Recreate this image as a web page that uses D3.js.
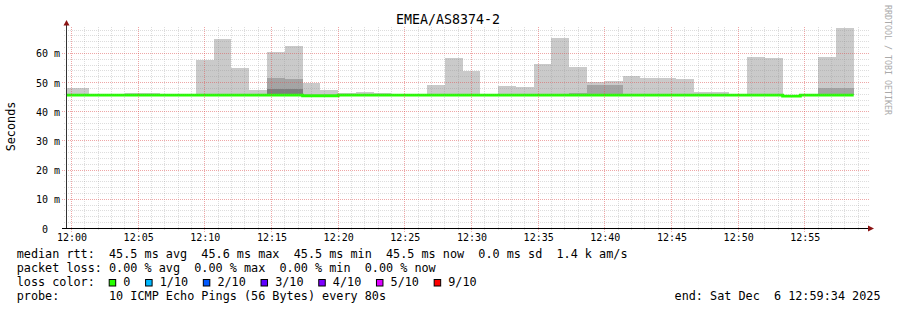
<!DOCTYPE html>
<html><head><meta charset="utf-8">
<script src="https://cdn.jsdelivr.net/npm/d3@7"></script>
<style>
body{margin:0;background:#fff;}
svg text{font-family:"DejaVu Sans Mono",monospace;white-space:pre;}
</style></head><body>
<svg id="c" width="897" height="310"></svg>
<script>
// ---------- data ----------
const title = "EMEA/AS8374-2";
const stepSeconds = 80;
// steps start at 11:58:40 (first one clipped by the plot edge)
const median = [45.7,45.7,45.7,45.7,45.7,45.7,45.7,45.7,45.7,45.7,45.7,45.7,45.7,45.7,45.5,45.5,45.7,45.7,45.7,45.7,45.7,45.7,45.7,45.7,45.7,45.7,45.7,45.7,45.7,45.7,45.7,45.7,45.7,45.7,45.7,45.7,45.7,45.7,45.7,45.7,45.7,45.35,45.7,45.7,45.7];
const smokeLight = [48.3,48.3,null,null,46.5,46.5,null,null,57.9,65.1,55.0,47.6,60.5,62.6,49.9,47.5,46.5,46.8,46.5,null,null,49.2,58.5,54.1,null,48.9,48.5,56.4,65.4,55.4,50.2,50.6,52.3,51.7,51.7,51.3,46.8,46.8,null,58.9,58.5,null,null,58.9,68.7];
const smokeMid = [null,null,null,null,null,null,null,null,null,null,null,null,51.6,51.3,null,null,null,null,null,null,null,null,null,null,null,null,null,null,null,46.5,49.3,49.3,null,null,null,null,null,null,null,null,null,null,null,48.3,48.3];
const smokeDark = [null,null,null,null,null,null,null,null,null,null,null,null,47.8,47.8,null,null,null,null,null,null,null,null,null,null,null,null,null,null,null,null,null,null,null,null,null,null,null,null,null,null,null,null,null,null,null];
const xTickLabels = ["12:00","12:05","12:10","12:15","12:20","12:25","12:30","12:35","12:40","12:45","12:50","12:55"];
const yTickValues = [0,10,20,30,40,50,60];
const yTickLabels = ["0  ","10 m","20 m","30 m","40 m","50 m","60 m"];
const legendRtt = "median rtt:  45.5 ms avg  45.6 ms max  45.5 ms min  45.5 ms now  0.0 ms sd  1.4 k am/s";
const legendLoss = "packet loss: 0.00 % avg  0.00 % max  0.00 % min  0.00 % now";
const lossLabels = ["0","1/10","2/10","3/10","4/10","5/10","9/10"];
const lossColors = ["#26ff00","#00b8ff","#0059ff","#5e00ff","#7e00ff","#dd00ff","#ff0000"];
const probeText = "probe:       10 ICMP Echo Pings (56 Bytes) every 80s";
const endText = "end: Sat Dec  6 12:59:34 2025";
const yLabel = "Seconds";
const watermark = "RRDTOOL / TOBI OETIKER";
const smokeColors = ["#cacaca","#a4a4a4","#7e7e7e"];

// ---------- scales ----------
const svg = d3.select("#c");
const T = (h,m,s)=>new Date(2025,11,6,h,m,s);
const x = d3.scaleTime().domain([T(11,59,34), T(12,59,34)]).range([65.72, 865.72]);
const y = d3.scaleLinear().domain([0, 68.56]).range([228.5, 28.5]);
const firstStep = T(11,58,40);
const steps = median.map((m,i)=>({
  t: new Date(+firstStep + i*stepSeconds*1000),
  t2: new Date(+firstStep + (i+1)*stepSeconds*1000),
  m, light: smokeLight[i], mid: smokeMid[i], dark: smokeDark[i]
}));

svg.append("rect").attr("width",897).attr("height",310).attr("fill","#fff");
svg.append("defs").append("clipPath").attr("id","plot")
  .append("rect").attr("x",66.5).attr("y",0).attr("width",866-66.5).attr("height",228);

const plot = svg.append("g").attr("clip-path","url(#plot)");

// smoke layers
[["light",0],["mid",1],["dark",2]].forEach(([k,ci])=>{
  plot.append("g").attr("shape-rendering","crispEdges").selectAll("rect")
    .data(steps.filter(d=>d[k]!=null)).join("rect")
    .attr("x",d=>Math.round(x(d.t)))
    .attr("width",d=>Math.round(x(d.t2))-Math.round(x(d.t)))
    .attr("y",d=>y(d[k]))
    .attr("height",d=>y(d.m)-y(d[k]))
    .attr("fill",smokeColors[ci]);
});

// grid
const grid = svg.append("g").attr("shape-rendering","crispEdges");
const px = v=>Math.floor(v)+0.5;
const minuteTicks = d3.range(0,60).map(mn=>T(12,mn,0));
const minorX = minuteTicks.filter(t=>t.getMinutes()%5!==0);
const majorX = minuteTicks.filter(t=>t.getMinutes()%5===0);
const minorY = d3.range(2,69,2).filter(v=>v%10!==0);
const majorY = yTickValues.filter(v=>v>0);
grid.selectAll(".mx").data(minorX).join("line")
  .attr("x1",d=>px(x(d))).attr("x2",d=>px(x(d))).attr("y1",27).attr("y2",231)
  .attr("stroke","#8f8f8f").attr("stroke-opacity",0.3).attr("stroke-dasharray","1,1");
grid.selectAll(".my").data(minorY).join("line")
  .attr("y1",d=>px(y(d))).attr("y2",d=>px(y(d))).attr("x1",64).attr("x2",869)
  .attr("stroke","#8f8f8f").attr("stroke-opacity",0.3).attr("stroke-dasharray","1,1");
grid.selectAll(".Mx").data(majorX).join("line")
  .attr("x1",d=>px(x(d))).attr("x2",d=>px(x(d))).attr("y1",27).attr("y2",232)
  .attr("stroke","#de5050").attr("stroke-opacity",0.5).attr("stroke-dasharray","1,1");
grid.selectAll(".My").data(majorY).join("line")
  .attr("y1",d=>px(y(d))).attr("y2",d=>px(y(d))).attr("x1",62).attr("x2",869)
  .attr("stroke","#de5050").attr("stroke-opacity",0.5).attr("stroke-dasharray","1,1");

// median line
const pts = steps.map(d=>[d.t,d.m]).concat([[steps[steps.length-1].t2, steps[steps.length-1].m]]);
plot.append("path")
  .attr("d", d3.line().x(d=>x(d[0])).y(d=>y(d[1])).curve(d3.curveStepAfter)(pts))
  .attr("fill","none").attr("stroke",lossColors[0]).attr("stroke-width",2.8);

// axes lines + arrows
svg.append("line").attr("x1",66.5).attr("x2",66.5).attr("y1",229).attr("y2",23)
  .attr("stroke","#333").attr("stroke-width",1).attr("shape-rendering","crispEdges");
svg.append("line").attr("x1",62).attr("x2",869).attr("y1",228.5).attr("y2",228.5)
  .attr("stroke","#000").attr("stroke-width",1).attr("shape-rendering","crispEdges");
svg.append("path").attr("d","M63.5,25.5L69.5,25.5L66.5,20Z").attr("fill","#8b1414");
svg.append("path").attr("d","M868,225.5L868,231.5L874,228.5Z").attr("fill","#8b1414");

// x axis labels
const xTickTimes = xTickLabels.map(s=>T(+s.slice(0,2), +s.slice(3,5), 0));
const xa = svg.append("g").attr("transform","translate(0,228)")
  .call(d3.axisBottom(x).tickValues(xTickTimes).tickFormat((d,i)=>xTickLabels[i]).tickSize(0));
xa.select(".domain").remove();
xa.selectAll("text").attr("y",12.7).attr("dy",0).attr("font-size","10px")
  .attr("font-family",'"DejaVu Sans Mono",monospace').attr("fill","#000");

// y axis labels
const ya = svg.append("g").attr("transform","translate(60,0)")
  .call(d3.axisLeft(y).tickValues(yTickValues).tickFormat((d,i)=>yTickLabels[i]).tickSize(0));
ya.select(".domain").remove();
ya.selectAll("text").attr("x",0).attr("dy","0.35em").attr("font-size","10px")
  .attr("font-family",'"DejaVu Sans Mono",monospace').attr("fill","#000");

// title
svg.append("text").attr("x",448).attr("y",24).attr("text-anchor","middle")
  .attr("font-size","13.3px").attr("fill","#000").text(title);

// y label
svg.append("text").attr("transform","translate(15,126.5) rotate(-90)").attr("text-anchor","middle")
  .attr("font-size","11.8px").attr("fill","#000").text(yLabel);

// watermark
svg.append("text").attr("transform","translate(884.5,5) rotate(90)")
  .attr("font-size","8.3px").attr("fill","#aaaaaa").text(watermark);

// legend
const lg = svg.append("g").attr("font-size","11.8px").attr("fill","#000");
lg.append("text").attr("x",16.7).attr("y",257.5).text(legendRtt);
lg.append("text").attr("x",16.7).attr("y",271.5).text(legendLoss);
lg.append("text").attr("x",16.7).attr("y",285.7).text("loss color:");
lg.append("text").attr("x",16.7).attr("y",299.7).text(probeText);
lg.append("text").attr("x",880.5).attr("y",299.7).attr("text-anchor","end").text(endText);
const cw = 11.8*0.602;
let bx = 108.7;
lossLabels.forEach((lab,i)=>{
  lg.append("rect").attr("x",bx+0.5).attr("y",279.5).attr("width",6.5).attr("height",6.5)
    .attr("fill",lossColors[i]).attr("stroke","#000").attr("stroke-width",1);
  lg.append("text").attr("x",bx+14.6).attr("y",285.7).text(lab);
  bx = bx + 14.6 + lab.length*cw + 14.7;
});
</script>
</body></html>
